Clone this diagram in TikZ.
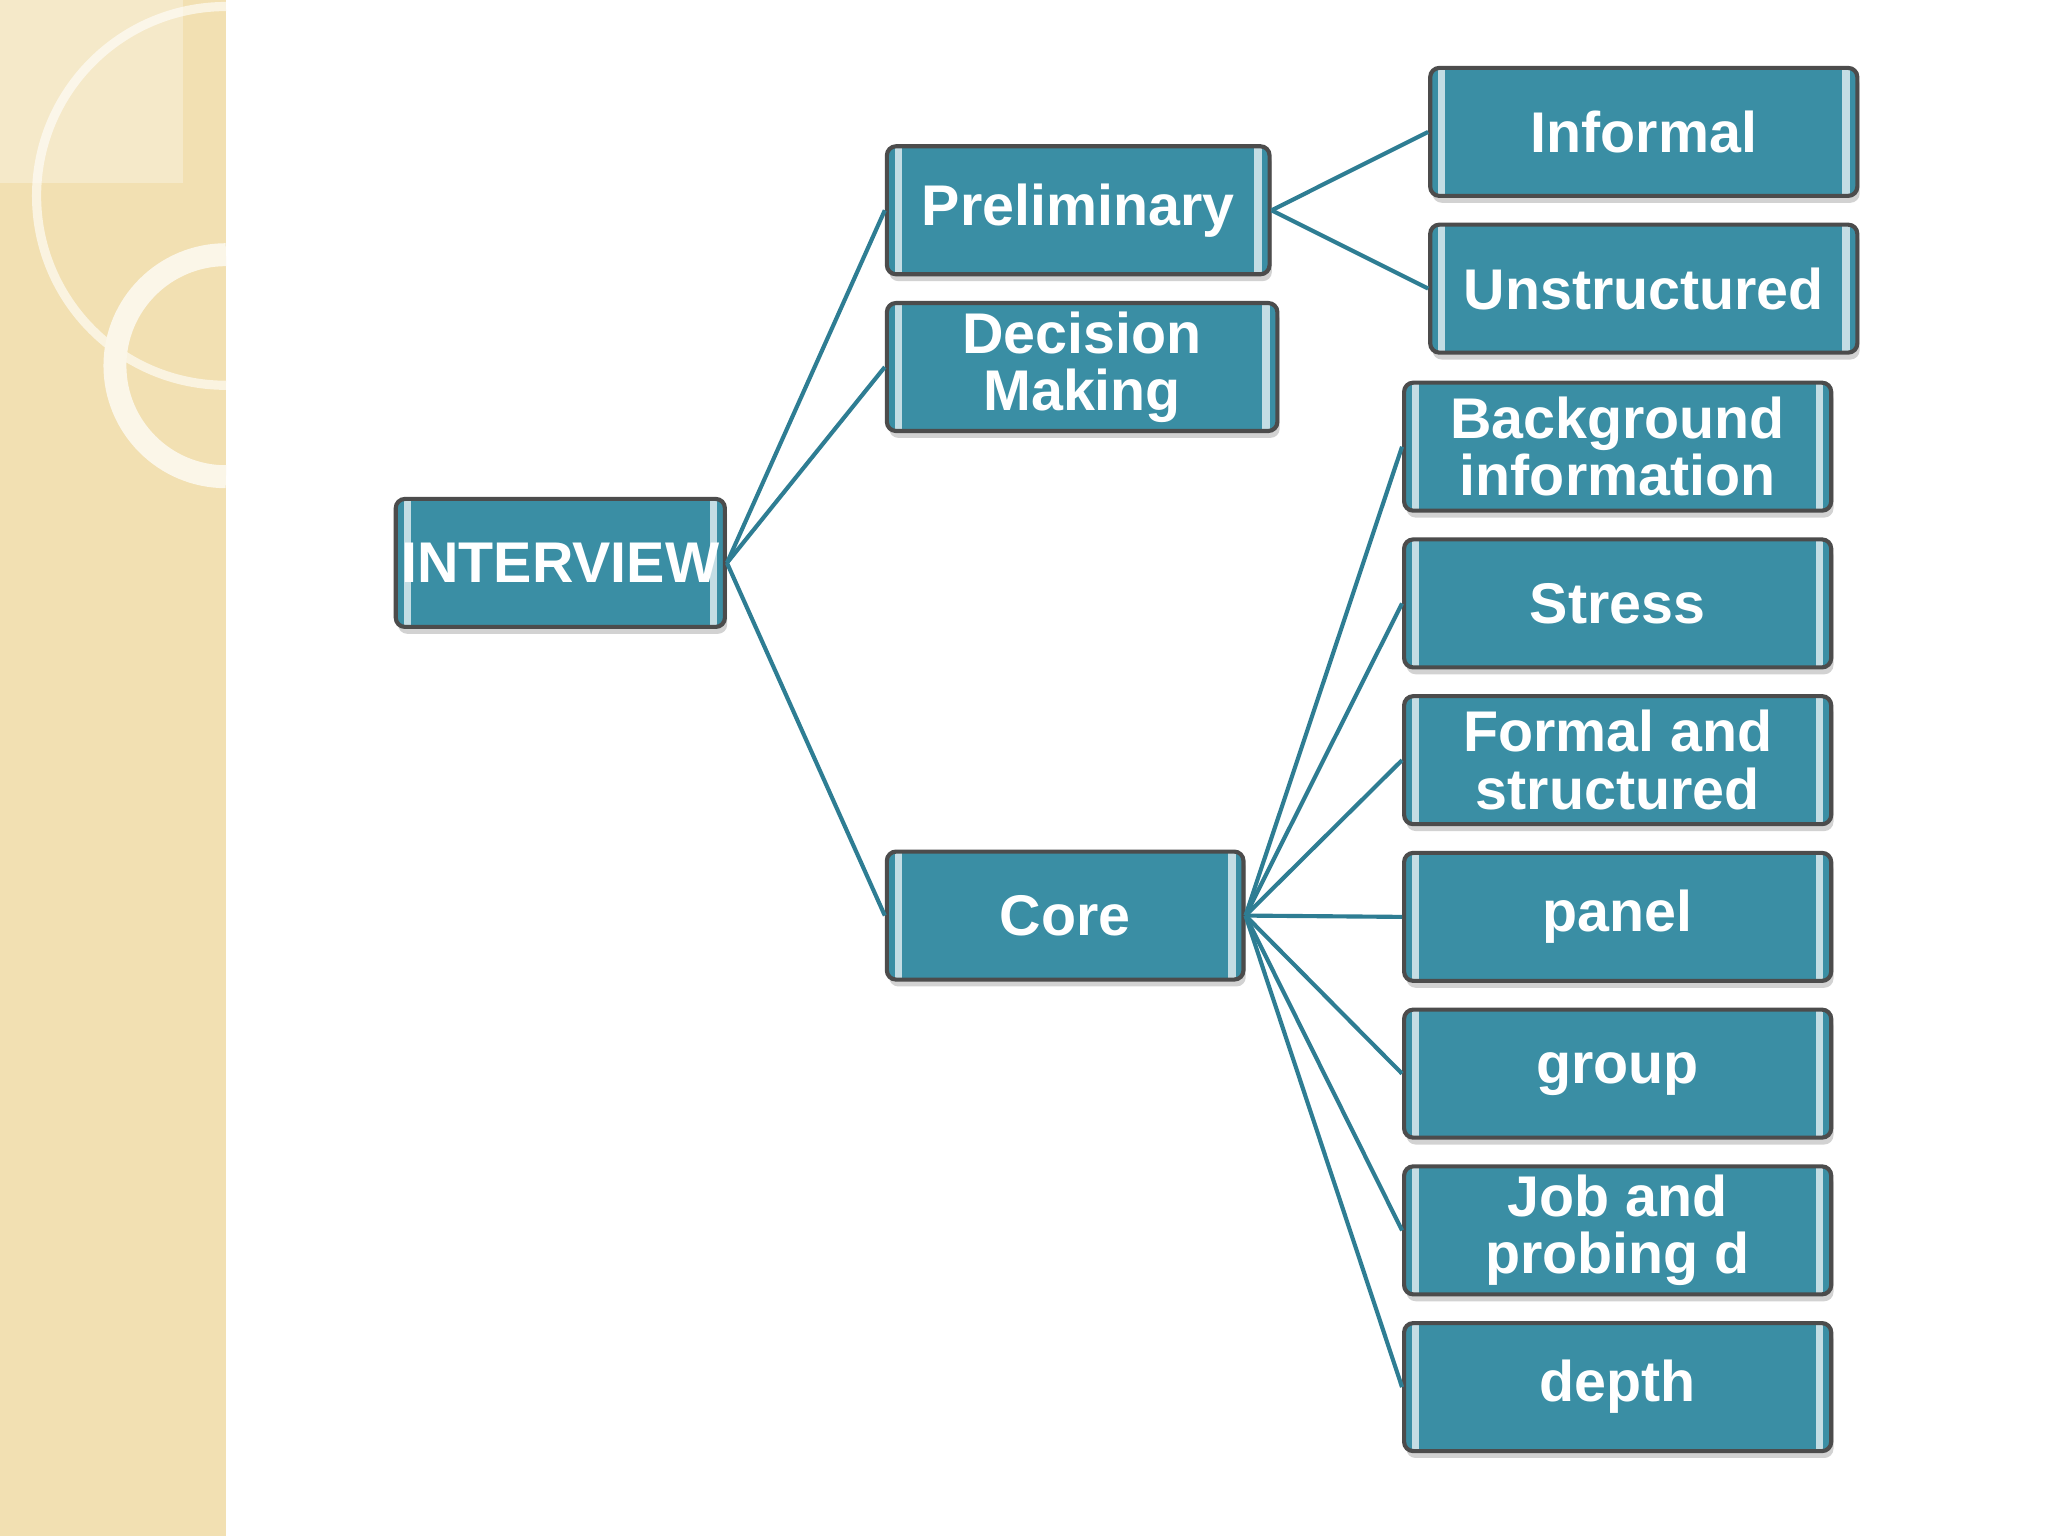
\documentclass[tikz,border=0pt]{standalone}
\usepackage{fontspec}
\setmainfont{Liberation Sans}
\usetikzlibrary{shadows}
\definecolor{teal1}{HTML}{3A8EA4}
\definecolor{tealline}{HTML}{2E7D93}
\definecolor{beige}{HTML}{F2E0B2}
\tikzset{
 box/.style={draw=black!70,line width=0.9pt,fill=teal1,rounded corners=2pt,
   text=white,font=\bfseries\fontsize{12.5}{12.5}\selectfont,align=center,
   minimum height=0.98cm,inner sep=1pt,
   drop shadow={shadow xshift=0.5pt,shadow yshift=-1.5pt,opacity=0.35},
   path picture={\draw[white!70!teal1,line width=1.6pt]
     ([xshift=2.5pt,yshift=2pt]path picture bounding box.north west)--([xshift=2.5pt,yshift=-2pt]path picture bounding box.south west)
     ([xshift=-2.5pt,yshift=2pt]path picture bounding box.north east)--([xshift=-2.5pt,yshift=-2pt]path picture bounding box.south east);}},
 link/.style={draw=tealline,line width=0.9pt}
}
\begin{document}
\begin{tikzpicture}[x=1cm,y=1cm]
\fill[white] (0,0) rectangle (15.68,-11.76);
\fill[beige] (0,0) rectangle (1.73,-11.76);
\draw[white!60!beige,line width=2pt] (1.73,-0.05) arc[start angle=90,end angle=270,radius=1.45];
\draw[white!70!beige,line width=5pt] (1.73,-1.95) arc[start angle=90,end angle=270,radius=0.85];
\fill[white,opacity=0.3] (0,0) rectangle (1.4,-1.4);

\node[box,minimum width=2.52cm] (int) at (4.29,-4.31) {INTERVIEW};
\node[box,minimum width=2.93cm] (pre) at (8.255,-1.61) {Preliminary};
\node[box,minimum width=2.99cm] (dec) at (8.285,-2.81) {Decision\\Making};
\node[box,minimum width=2.73cm] (core) at (8.155,-7.01) {Core};
\node[box,minimum width=3.27cm] (inf) at (12.585,-1.01) {Informal};
\node[box,minimum width=3.27cm] (uns) at (12.585,-2.21) {Unstructured};
\node[box,minimum width=3.27cm] (bg) at (12.385,-3.42) {Background\\information};
\node[box,minimum width=3.27cm] (str) at (12.385,-4.62) {Stress};
\node[box,minimum width=3.27cm] (for) at (12.385,-5.82) {Formal and\\structured};
\node[box,minimum width=3.27cm] (pan) at (12.385,-7.02) {panel};
\node[box,minimum width=3.27cm] (grp) at (12.385,-8.22) {group};
\node[box,minimum width=3.27cm] (job) at (12.385,-9.42) {Job and\\probing d};
\node[box,minimum width=3.27cm] (dep) at (12.385,-10.62) {depth};

\begin{scope}[on background layer/.style={}]
\end{scope}
\foreach \c in {pre,dec,core} \draw[link] (int.east) -- (\c.west);
\foreach \c in {inf,uns} \draw[link] (pre.east) -- (\c.west);
\foreach \c in {bg,str,for,pan,grp,job,dep} \draw[link] (core.east) -- (\c.west);
\end{tikzpicture}
\end{document}
